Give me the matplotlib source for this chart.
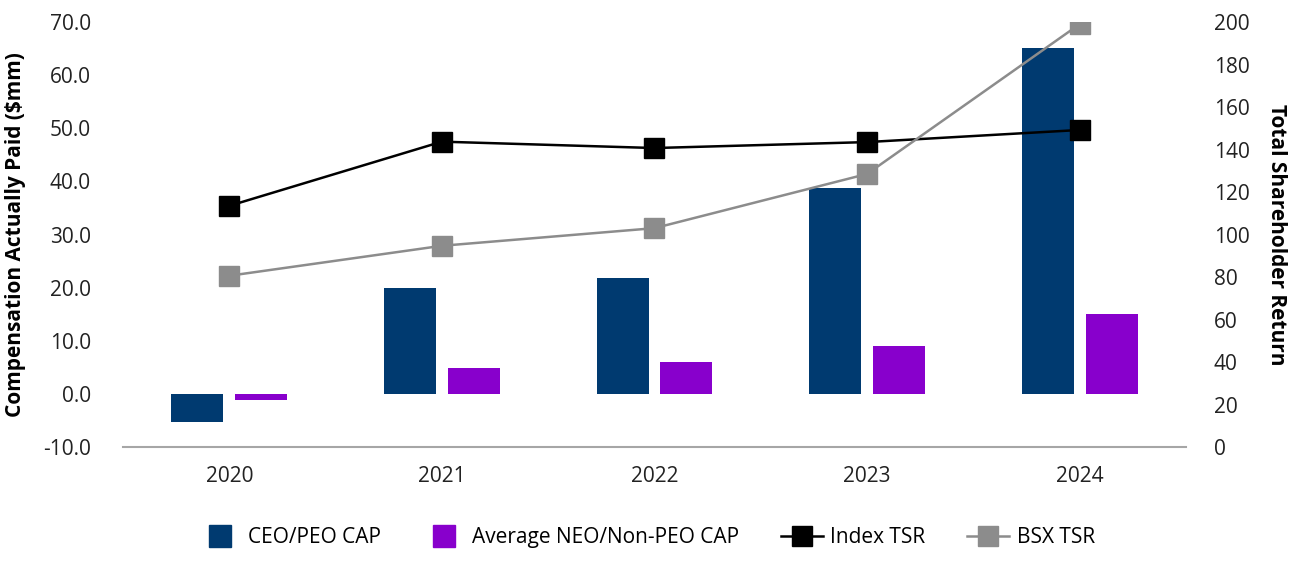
import numpy as np
import matplotlib
matplotlib.use("Agg")
import matplotlib.pyplot as plt
from matplotlib.lines import Line2D

plt.rcParams['font.family'] = ['Open Sans', 'Noto Sans', 'DejaVu Sans']

years = ["2020", "2021", "2022", "2023", "2024"]
ceo_cap = [-5.3, 19.9, 21.8, 38.8, 65.1]
neo_cap = [-1.1, 4.9, 6.0, 9.0, 15.0]
index_tsr = [113.5, 143.7, 140.7, 143.5, 149.2]
bsx_tsr = [80.6, 94.7, 103.0, 128.5, 199.0]

NAVY = "#003A70"
PURPLE = "#8800CC"
GRAY = "#8C8C8C"
FS = 15

fig = plt.figure(figsize=(12.96, 5.66), dpi=100)
ax = fig.add_axes([0.0949, 0.2102, 0.8202, 0.7509])
x = np.arange(len(years))
w = 0.245
ax.bar(x - 0.15, ceo_cap, w, color=NAVY, zorder=2)
ax.bar(x + 0.15, neo_cap, w, color=PURPLE, zorder=2)
ax.set_xlim(-0.5, 4.5)
ax.set_ylim(-10, 70)
ax.set_yticks(np.arange(-10, 71, 10))
ax.set_yticklabels([f"{v:.1f}" for v in np.arange(-10, 71, 10)])
ax.set_xticks(x)
ax.set_xticklabels(years)
ax.tick_params(axis="both", length=0, labelsize=FS, colors="#222222")
ax.tick_params(axis="x", pad=14)
ax.tick_params(axis="y", pad=23)
for s in ["top", "right", "left"]:
    ax.spines[s].set_visible(False)
ax.spines["bottom"].set_color("#A6A6A6")
ax.spines["bottom"].set_linewidth(1.5)
ax.set_ylabel("Compensation Actually Paid ($mm)", fontsize=FS, fontweight="bold")
ax.yaxis.set_label_coords(-0.0913, 0.5)

ax2 = ax.twinx()
ax2.plot(x, index_tsr, color="black", lw=1.8, marker="s", ms=14.4, zorder=3)
ax2.plot(x, bsx_tsr, color=GRAY, lw=1.8, marker="s", ms=14.4, zorder=3)
ax2.set_ylim(0, 200)
ax2.set_yticks(np.arange(0, 201, 20))
ax2.tick_params(axis="y", length=0, labelsize=FS, colors="#222222", pad=20)
for s in ["top", "right", "left", "bottom"]:
    ax2.spines[s].set_visible(False)
ax2.set_ylabel("Total Shareholder Return", fontsize=FS, fontweight="bold", rotation=270)
ax2.yaxis.set_label_coords(1.095, 0.5)

handles = [
    Line2D([], [], ls="none", marker="s", ms=15.8, color=NAVY),
    Line2D([], [], ls="none", marker="s", ms=15.8, color=PURPLE),
    Line2D([], [], color="black", lw=1.8, marker="s", ms=14.4),
    Line2D([], [], color=GRAY, lw=1.8, marker="s", ms=14.4),
]
labels = ["CEO/PEO CAP", "Average NEO/Non-PEO CAP", "Index TSR", "BSX TSR"]
fig.legend(handles, labels, loc="center", bbox_to_anchor=(0.499, 0.05), ncol=4,
           frameon=False, fontsize=FS, handlelength=2.0,
           columnspacing=2.0, handletextpad=0.37)

fig.savefig("out.png", dpi=100)
